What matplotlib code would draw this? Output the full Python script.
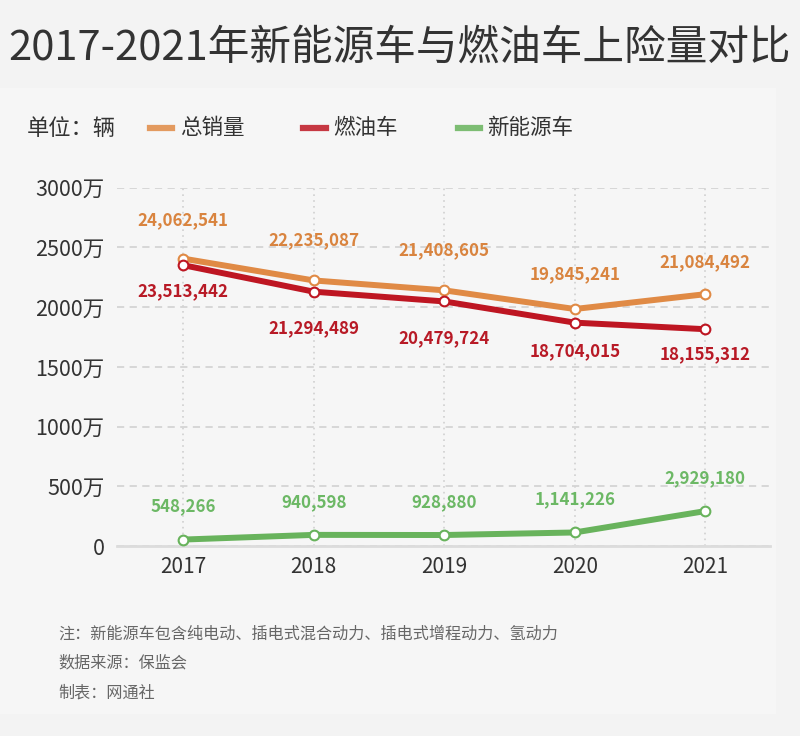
import matplotlib
matplotlib.use('Agg')
import matplotlib.pyplot as plt
from matplotlib.patches import Rectangle

plt.rcParams['font.family'] = ['Noto Sans CJK SC', 'DejaVu Sans']

years = ['2017', '2018', '2019', '2020', '2021']
total = [24062541, 22235087, 21408605, 19845241, 21084492]
fuel = [23513442, 21294489, 20479724, 18704015, 18155312]
new_energy = [548266, 940598, 928880, 1141226, 2929180]
yticks = [0, 5000000, 10000000, 15000000, 20000000, 25000000, 30000000]
ytick_labels = ['0', '500万', '1000万', '1500万', '2000万', '2500万', '3000万']
notes = ['注：新能源车包含纯电动、插电式混合动力、插电式增程动力、氢动力',
         '数据来源：保监会',
         '制表：网通社']

c_total = '#e08a45'
c_fuel = '#be1622'
c_new = '#68b35c'
c_total_txt = '#d9843f'
c_fuel_txt = '#b81a26'
c_new_txt = '#6cb865'

fig = plt.figure(figsize=(8, 7.36), dpi=100, facecolor='#f3f3f3')
# lighter panel behind the chart
fig.add_artist(Rectangle((0.0, 0.03), 0.97, 0.85, transform=fig.transFigure,
                         facecolor='#f6f6f6', edgecolor='none', zorder=-5))

ax = fig.add_axes([0.146, 0.258, 0.817, 0.487])
ax.set_zorder(2)
ax.set_facecolor('none')
x = list(range(len(years)))

ax.plot(x, total, color=c_total, lw=4.3, marker='o', ms=7, mfc='white', mec=c_total,
        mew=1.5, zorder=4, clip_on=False)
ax.plot(x, fuel, color=c_fuel, lw=4.3, marker='o', ms=7, mfc='white', mec=c_fuel,
        mew=1.5, zorder=5, clip_on=False)
ax.plot(x, new_energy, color=c_new, lw=4.3, marker='o', ms=7, mfc='white', mec=c_new,
        mew=1.5, zorder=4, clip_on=False)

# value labels
total_off = [38, 40, 40, 35, 32]
fuel_off = [-26, -37, -37, -29, -25]
for i in x:
    ax.annotate(f'{total[i]:,}', (i, total[i]), xytext=(0, total_off[i]),
                textcoords='offset pixels', ha='center', va='center',
                fontsize=12.2, fontweight='bold', color=c_total_txt, zorder=6)
    ax.annotate(f'{fuel[i]:,}', (i, fuel[i]), xytext=(0, fuel_off[i]),
                textcoords='offset pixels', ha='center', va='center',
                fontsize=12.2, fontweight='bold', color=c_fuel_txt, zorder=6)
    ax.annotate(f'{new_energy[i]:,}', (i, new_energy[i]), xytext=(0, 33),
                textcoords='offset pixels', ha='center', va='center',
                fontsize=12.2, fontweight='bold', color=c_new_txt, zorder=6)

ax.set_xlim(-0.51, 4.5)
ax.set_ylim(0, 30000000)
ax.set_yticks(yticks)
ax.set_yticklabels(ytick_labels)
ax.set_xticks(x)
ax.set_xticklabels(years)
ax.tick_params(axis='y', length=0, labelsize=15.5, colors='#333333', pad=9)
ax.tick_params(axis='x', length=0, labelsize=15, colors='#333333', pad=7)

ax.grid(axis='y', color='#d4d4d4', linestyle=(0, (4, 3)), lw=1.3, zorder=1)
ax.grid(axis='x', color='#d0d0d0', linestyle=(0, (1, 2.5)), lw=1.2, zorder=1)
for s in ['top', 'right', 'left']:
    ax.spines[s].set_visible(False)
ax.spines['bottom'].set_color('#dcdcdc')
ax.spines['bottom'].set_linewidth(2)

# title
fig.text(0.5, 0.935, '2017-2021年新能源车与燃油车上险量对比', ha='center', va='center',
         fontsize=30, fontweight='medium', color='#333333')

# legend row
ly = 0.826
fig.text(0.034, ly, '单位：辆', ha='left', va='center', fontsize=16, color='#333333')
legend_items = [('总销量', c_total, 0.1875), ('燃油车', c_fuel, 0.379), ('新能源车', c_new, 0.5725)]
for label, col, lx in legend_items:
    fig.add_artist(plt.Line2D([lx, lx + 0.028], [ly, ly], transform=fig.transFigure,
                              color=col, lw=4.5, alpha=0.85))
    fig.text(lx + 0.037, ly, label, ha='left', va='center', fontsize=15.5, color='#333333')

# footnotes
for k, note in enumerate(notes):
    fig.text(0.073, 0.139 - k * 0.04, note, ha='left', va='center', fontsize=11.6,
             color='#666666')

fig.savefig('out.png', dpi=100, facecolor=fig.get_facecolor())
